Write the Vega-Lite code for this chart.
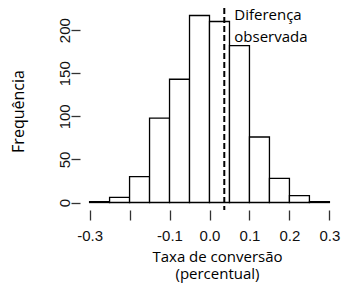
{
  "$schema": "https://vega.github.io/schema/vega-lite/v6.json",
  "width": 259,
  "height": 202,
  "autosize": {"type": "none"},
  "padding": {"left": 80, "top": 8, "right": 3, "bottom": 76},
  "background": "white",
  "config": {"view": {"stroke": null}, "font": "Open Sans"},
  "datasets": {
    "bins": [
      {"start": -0.3, "end": -0.25, "count": 1},
      {"start": -0.25, "end": -0.2, "count": 6},
      {"start": -0.2, "end": -0.15, "count": 30},
      {"start": -0.15, "end": -0.1, "count": 98},
      {"start": -0.1, "end": -0.05, "count": 143},
      {"start": -0.05, "end": 0.0, "count": 217},
      {"start": 0.0, "end": 0.05, "count": 210},
      {"start": 0.05, "end": 0.1, "count": 182},
      {"start": 0.1, "end": 0.15, "count": 76},
      {"start": 0.15, "end": 0.2, "count": 28},
      {"start": 0.2, "end": 0.25, "count": 8},
      {"start": 0.25, "end": 0.3, "count": 1}
    ],
    "observed": [{"diff": 0.037}],
    "notes": [
      {"label": "Diferença", "x": 0.062, "y": 211.6},
      {"label": "observada", "x": 0.062, "y": 186.4}
    ]
  },
  "layer": [
    {
      "data": {"name": "bins"},
      "mark": {"type": "bar", "fill": "white", "stroke": "black", "strokeWidth": 1.3},
      "encoding": {
        "x": {
          "field": "start", "type": "quantitative",
          "scale": {"domain": [-0.324, 0.324], "nice": false, "zero": false},
          "axis": {
            "values": [-0.3, -0.2, -0.1, 0, 0.1, 0.2, 0.3],
            "domain": false, "grid": false,
            "tickSize": 10, "tickColor": "#333", "tickWidth": 1.3,
            "labelFont": "Liberation Sans", "labelFontSize": 15, "labelColor": "#111",
            "labelPadding": 8, "labelOverlap": false, "labelFlush": false, "labelBound": false,
            "labelExpr": "datum.value == -0.2 ? '' : replace(format(datum.value, '.1f'), '\u2212', '-')",
            "title": ["Taxa de conversão", "(percentual)"],
            "titleFont": "Open Sans", "titleFontSize": 15, "titleFontWeight": "normal", "titleColor": "black",
            "titleX": 137, "titleY": 51, "titleBaseline": "alphabetic", "titleLineHeight": 17, "titleAlign": "center"
          }
        },
        "x2": {"field": "end"},
        "y": {
          "field": "count", "type": "quantitative",
          "scale": {"domain": [-8.68, 225.68], "nice": false, "zero": false},
          "axis": {
            "values": [0, 50, 100, 150, 200],
            "domain": false, "grid": false,
            "tickSize": 9, "tickColor": "#333", "tickWidth": 1.3,
            "labelFont": "Liberation Sans", "labelFontSize": 15, "labelColor": "#111",
            "labelAngle": -90, "labelAlign": "center", "labelBaseline": "alphabetic", "labelPadding": 2,
            "labelOverlap": false, "labelFlush": false, "labelBound": false,
            "title": "Frequência",
            "titleFont": "Open Sans", "titleFontSize": 16, "titleFontWeight": "normal", "titleColor": "black",
            "titleAngle": -90, "titleX": -62, "titleY": 103, "titleAlign": "center", "titleBaseline": "middle"
          }
        },
        "y2": {"datum": 0}
      }
    },
    {
      "mark": {"type": "rule", "color": "#333", "strokeWidth": 1.3},
      "encoding": {
        "x": {"datum": -0.3, "type": "quantitative"},
        "x2": {"datum": 0.3},
        "y": {"datum": -8.68, "type": "quantitative"}
      }
    },
    {
      "mark": {"type": "rule", "color": "#333", "strokeWidth": 1.3},
      "encoding": {
        "x": {"datum": -0.323, "type": "quantitative"},
        "y": {"datum": 0, "type": "quantitative"},
        "y2": {"datum": 200}
      }
    },
    {
      "data": {"name": "observed"},
      "mark": {"type": "rule", "color": "black", "strokeWidth": 2, "strokeDash": [6, 3]},
      "encoding": {
        "x": {"field": "diff", "type": "quantitative"}
      }
    },
    {
      "data": {"name": "notes"},
      "mark": {"type": "text", "align": "left", "baseline": "alphabetic", "font": "Open Sans", "fontSize": 15, "color": "black"},
      "encoding": {
        "x": {"field": "x", "type": "quantitative"},
        "y": {"field": "y", "type": "quantitative"},
        "text": {"field": "label"}
      }
    }
  ]
}
